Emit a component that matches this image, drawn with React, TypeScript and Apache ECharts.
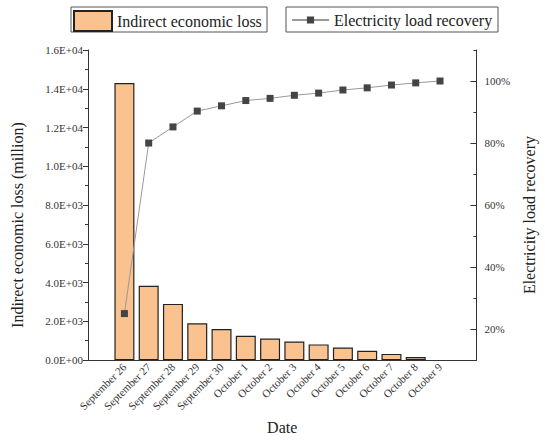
import React, { useEffect, useRef } from "react";
import * as echarts from "echarts";

const dates = [
  "September 26", "September 27", "September 28", "September 29", "September 30",
  "October 1", "October 2", "October 3", "October 4", "October 5",
  "October 6", "October 7", "October 8", "October 9",
];
const indirectLoss = [14300, 3830, 2900, 1900, 1600, 1260, 1110, 960, 810, 650, 480, 320, 160, 0];
const loadRecovery = [25, 80, 85.2, 90.3, 92, 93.7, 94.4, 95.4, 96.1, 97.1, 97.8, 98.7, 99.4, 100];
const rightMajorTicks = [20, 40, 60, 80, 100];
const rightMinorTicks = [30, 50, 70, 90, 110];

const FONT = "Liberation Serif";

function sci(v: number): string {
  if (v === 0) return "0.0E+00";
  const e = Math.floor(Math.log10(Math.abs(v)) + 1e-9);
  const m = v / Math.pow(10, e);
  const sign = e < 0 ? "-" : "+";
  const ae = Math.abs(e);
  return m.toFixed(1) + "E" + sign + (ae < 10 ? "0" + ae : String(ae));
}

export default function App() {
  const ref = useRef<HTMLDivElement>(null);
  useEffect(() => {
    if (!ref.current) return;
    const chart = echarts.init(ref.current, null, { renderer: "svg" });
    const categories = ["", ...dates, ""];
    const barData = ["-", ...indirectLoss.map((v) => (v === 0 ? "-" : v)), "-"];
    const lineData = ["-", ...loadRecovery, "-"];
    const axisColor = "#333";
    chart.setOption({
      animation: false,
      backgroundColor: "#fff",
      textStyle: { fontFamily: FONT },
      grid: { left: 88, right: 59, top: 50, bottom: 71 },
      legend: [
        {
          data: ["Indirect economic loss"],
          icon: "rect",
          left: 73,
          top: 10,
          padding: 0,
          itemWidth: 38,
          itemHeight: 20,
          itemGap: 0,
          textStyle: { fontFamily: FONT, fontSize: 16, color: "#222" },
        },
        {
          data: ["Electricity load recovery"],
          left: 291,
          top: 11,
          padding: 0,
          itemWidth: 37,
          itemHeight: 9,
          textStyle: { fontFamily: FONT, fontSize: 16, color: "#222", lineHeight: 18 },
        },
      ],
      graphic: [
        { type: "rect", shape: { x: 71, y: 7, width: 196, height: 25 }, style: { fill: "none", stroke: "#555", lineWidth: 1 } },
        { type: "rect", shape: { x: 286, y: 7, width: 212, height: 25 }, style: { fill: "none", stroke: "#555", lineWidth: 1 } },
      ],
      xAxis: {
        type: "category",
        data: categories,
        boundaryGap: true,
        name: "Date",
        nameLocation: "middle",
        nameGap: 55,
        nameTextStyle: { fontFamily: FONT, fontSize: 16, color: "#222" },
        axisLine: { lineStyle: { color: axisColor, width: 1 } },
        axisTick: { alignWithLabel: true, interval: 0, length: 5, lineStyle: { color: axisColor } },
        axisLabel: { interval: 0, rotate: 45, fontFamily: FONT, fontSize: 11, color: "#333", margin: 5 },
      },
      yAxis: [
        {
          type: "value",
          min: 0,
          max: 16000,
          interval: 2000,
          position: "left",
          name: "Indirect economic loss (million)",
          nameLocation: "middle",
          nameGap: 63,
          nameRotate: 90,
          nameTextStyle: { fontFamily: FONT, fontSize: 16, color: "#222", padding: [0, 40, 0, 0] },
          axisLine: { show: true, lineStyle: { color: axisColor, width: 1 } },
          axisTick: { show: true, length: 5, lineStyle: { color: axisColor } },
          minorTick: { show: true, splitNumber: 2, length: 3, lineStyle: { color: axisColor } },
          splitLine: { show: false },
          axisLabel: { formatter: (v: number) => sci(v), fontFamily: FONT, fontSize: 11, color: "#333", margin: 5 },
        },
        {
          type: "value",
          min: 10,
          max: 110,
          position: "right",
          name: "Electricity load recovery",
          nameLocation: "middle",
          nameGap: 42,
          nameRotate: 90,
          nameTextStyle: { fontFamily: FONT, fontSize: 16, color: "#222", padding: [0, 20, 0, 0] },
          axisLine: { show: true, lineStyle: { color: axisColor, width: 1 } },
          axisTick: { show: true, inside: true, length: 6, customValues: rightMajorTicks, lineStyle: { color: axisColor } },
          splitLine: { show: false },
          axisLabel: { customValues: rightMajorTicks, formatter: (v: number) => v + "%", fontFamily: FONT, fontSize: 11, color: "#333", margin: 8 },
        },
        {
          type: "value",
          min: 10,
          max: 110,
          position: "right",
          axisLine: { show: false },
          axisTick: { show: true, inside: true, length: 3, customValues: rightMinorTicks, lineStyle: { color: axisColor } },
          splitLine: { show: false },
          axisLabel: { show: false },
        },
      ],
      series: [
        {
          name: "Indirect economic loss",
          type: "bar",
          data: barData,
          barWidth: 20,
          itemStyle: { color: "#F9C28F", borderColor: "#222", borderWidth: 1.2 },
        },
        {
          name: "Electricity load recovery",
          type: "line",
          yAxisIndex: 1,
          data: lineData,
          symbol: "rect",
          symbolSize: 7,
          lineStyle: { color: "#999", width: 1 },
          itemStyle: { color: "#444" },
        },
      ],
    });
    return () => chart.dispose();
  }, []);
  return <div ref={ref} style={{ position: "fixed", left: 0, top: 0, width: 545, height: 440 }} />;
}
